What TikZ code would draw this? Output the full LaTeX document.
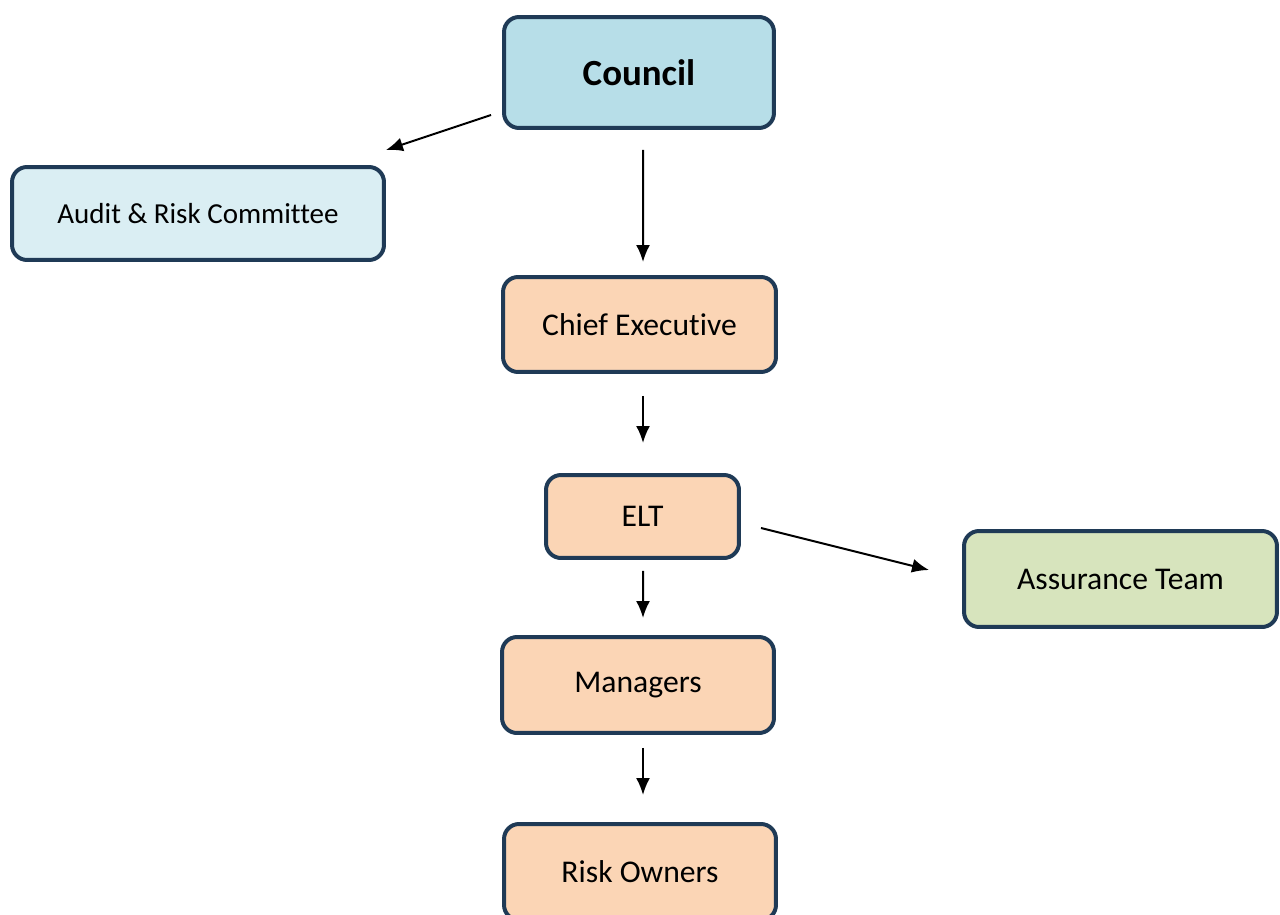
\documentclass[tikz,border=0pt]{standalone}
\usepackage{fontspec}
\setmainfont[Ligatures={NoCommon}]{Carlito}
\usetikzlibrary{arrows.meta}
\definecolor{boxline}{HTML}{1F3A56}
\definecolor{blueA}{HTML}{B7DEE8}
\definecolor{blueB}{HTML}{DAEEF3}
\definecolor{peach}{HTML}{FBD5B5}
\definecolor{sage}{HTML}{D7E4BD}
\begin{document}
\begin{tikzpicture}[x=0.02cm,y=-0.02cm,
    box/.style={draw=boxline,line width=0.08cm,rounded corners=0.3cm,inner sep=0pt,
      font=\fontsize{18}{22}\selectfont},
    link/.style={-{Latex[length=0.34cm,width=0.28cm]},line width=0.04cm}]
  \useasboundingbox (0,0) rectangle (1280,915);
  \node[box,fill=blueA,minimum width=5.4cm,minimum height=2.22cm,
    font=\fontsize{21}{25}\selectfont\bfseries] (council) at (639,72.5) {Council};
  \node[box,fill=blueB,minimum width=7.44cm,minimum height=1.86cm,
    font=\fontsize{16.5}{20}\selectfont] (audit) at (198,213.5) {Audit \& Risk Committee};
  \node[box,fill=peach,minimum width=5.46cm,minimum height=1.9cm] (ceo) at (639.5,324.5) {Chief Executive};
  \node[box,fill=peach,minimum width=3.86cm,minimum height=1.66cm] (elt) at (642.5,516.5) {ELT};
  \node[box,fill=sage,minimum width=6.26cm,minimum height=1.92cm] (assurance) at (1120.5,579) {Assurance Team};
  \node[box,fill=peach,minimum width=5.44cm,minimum height=1.92cm] (managers) at (638,685) {Managers};
  \node[box,fill=peach,minimum width=5.44cm,minimum height=1.92cm] (owners) at (640,872) {Risk Owners};
  \begin{scope}[link]
    \draw ([shift={(-11,42.5)}]council.west) to ([shift={(0,-15)}]audit.north east);
    \draw ([shift={(4,20)}]council.south) to ([shift={(3.5,-13)}]ceo.north);
    \draw ([shift={(3.5,22)}]ceo.south) to ([shift={(0.5,-30)}]elt.north);
    \draw ([shift={(20,11.5)}]elt.east) to ([shift={(-33,-9)}]assurance.west);
    \draw ([shift={(0.5,11)}]elt.south) to ([shift={(5,-17)}]managers.north);
    \draw ([shift={(5,13)}]managers.south) to ([shift={(3,-27)}]owners.north);
  \end{scope}
\end{tikzpicture}
\end{document}
